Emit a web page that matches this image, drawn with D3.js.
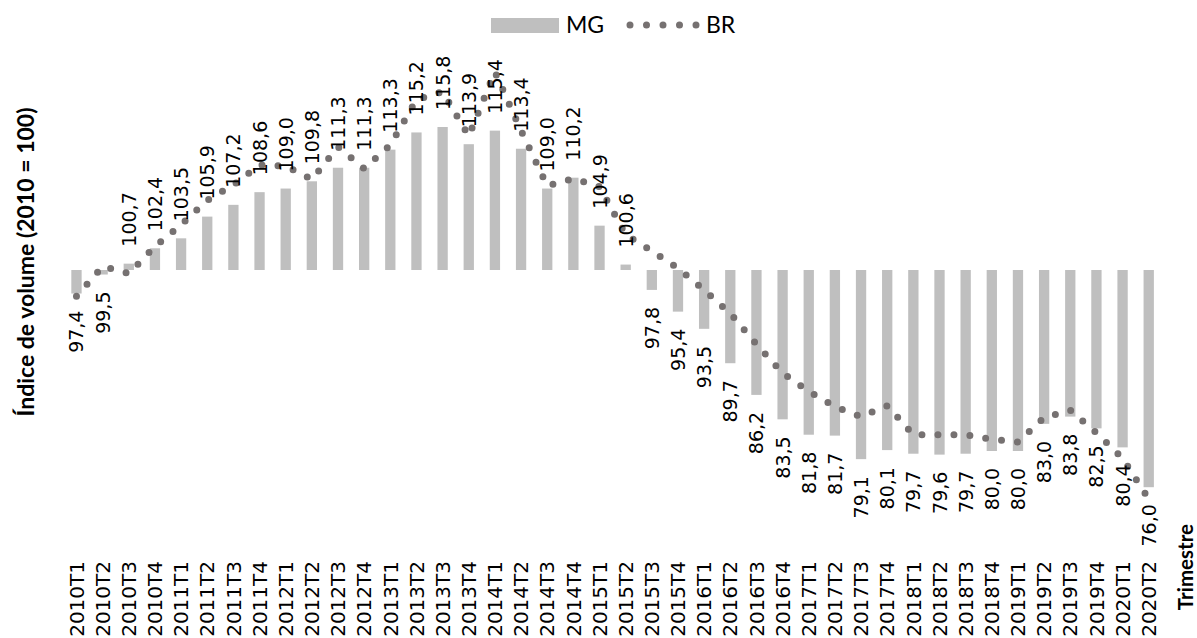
<!DOCTYPE html>
<html>
<head>
<meta charset="utf-8">
<title>MG x BR</title>
<script src="https://d3js.org/d3.v7.min.js"></script>
<style>
  body { margin: 0; background: #fff; }
  svg { display: block; }
</style>
</head>
<body>
<svg id="chart"></svg>
<script>
// trimestres 2010T1 .. 2020T2
const quarters = [];
for (let y = 2010; y <= 2020; y++) {
    for (let q = 1; q <= 4; q++) {
        if (y === 2020 && q > 2) break;
        quarters.push(y + "T" + q);
    }
}

// MG (barras, com rótulo)
const mgValues = [
    97.4, 99.5, 100.7, 102.4, 103.5, 105.9, 107.2, 108.6,
    109.0, 109.8, 111.3, 111.3, 113.3, 115.2, 115.8, 113.9,
    115.4, 113.4, 109.0, 110.2, 104.9, 100.6, 97.8, 95.4,
    93.5, 89.7, 86.2, 83.5, 81.8, 81.7, 79.1, 80.1,
    79.7, 79.6, 79.7, 80.0, 80.0, 83.0, 83.8, 82.5,
    80.4, 76.0
];

// BR (linha pontilhada, sem rótulo)
const brValues = [
    97.1, 100.4, 99.6, 102.6, 105.0, 107.7, 109.4, 111.6,
    111.5, 110.0, 113.6, 111.2, 113.8, 118.8, 119.7, 114.8,
    121.9, 115.4, 109.3, 110.1, 109.2, 103.9, 102.1, 100.2,
    97.8, 95.2, 91.8, 88.6, 86.6, 84.9, 83.8, 85.0,
    81.8, 81.8, 81.8, 81.3, 81.0, 83.7, 84.5, 82.0,
    79.2, 74.7
];

const seriesNames = ["MG", "BR"];
const baseValue = 100;

const width = 1197, height = 638;
const barColor = "#bfbfbf", dotColor = "#767171";
const fmt = v => v.toFixed(1).replace(".", ",");

const svg = d3.select("#chart").attr("width", width).attr("height", height);

const x = d3.scaleBand()
    .domain(quarters)
    .range([63.4, 1161.8])
    .paddingInner(0.606)
    .paddingOuter(0.303);

const y = d3.scaleLinear()
    .domain([70, 125])
    .range([541.5, 43.75]);

const cx = d => x(d) + x.bandwidth() / 2;

// barras a partir da base 100
svg.append("g")
    .selectAll("rect")
    .data(mgValues)
    .join("rect")
    .attr("x", (d, i) => x(quarters[i]))
    .attr("width", x.bandwidth())
    .attr("y", d => Math.min(y(d), y(baseValue)))
    .attr("height", d => Math.abs(y(d) - y(baseValue)))
    .attr("fill", barColor);

// linha BR pontilhada
const line = d3.line()
    .x((d, i) => cx(quarters[i]))
    .y(d => y(d));

svg.append("path")
    .datum(brValues)
    .attr("d", line)
    .attr("fill", "none")
    .attr("stroke", dotColor)
    .attr("stroke-width", 7)
    .attr("stroke-linecap", "round")
    .attr("stroke-dasharray", "0 16");

// rótulos MG
svg.append("g")
    .selectAll("text")
    .data(mgValues)
    .join("text")
    .attr("transform", (d, i) => {
        const up = d >= baseValue;
        const yy = up ? y(d) - 17 : y(d) + 17;
        return `translate(${cx(quarters[i]) + 7},${yy}) rotate(-90)`;
    })
    .attr("text-anchor", d => d >= baseValue ? "start" : "end")
    .attr("font-family", "DejaVu Sans")
    .attr("font-size", 19)
    .attr("fill", "#000")
    .text(fmt);

// eixo x (apenas rótulos)
const xAxis = svg.append("g")
    .attr("transform", "translate(0,561)")
    .call(d3.axisBottom(x).tickSize(0).tickPadding(0));
xAxis.select(".domain").remove();
xAxis.selectAll("text")
    .attr("transform", "rotate(-90)")
    .attr("x", 0)
    .attr("y", 0)
    .attr("dx", 0)
    .attr("dy", "0.36em")
    .attr("text-anchor", "end")
    .attr("font-family", "DejaVu Sans")
    .attr("font-size", 20)
    .attr("fill", "#000");

// títulos dos eixos
svg.append("text")
    .attr("transform", "translate(34,262) rotate(-90)")
    .attr("text-anchor", "middle")
    .attr("font-family", "Lato")
    .attr("font-weight", "bold")
    .attr("font-size", 23)
    .text("Índice de volume (2010 = 100)");

svg.append("text")
    .attr("transform", "translate(1193,524) rotate(-90)")
    .attr("text-anchor", "end")
    .attr("font-family", "Lato")
    .attr("font-weight", "bold")
    .attr("font-size", 20.5)
    .text("Trimestre");

// legenda
const legend = svg.append("g").attr("font-family", "Lato").attr("font-size", 23);
legend.append("rect")
    .attr("x", 491).attr("y", 18).attr("width", 68).attr("height", 15)
    .attr("fill", barColor);
legend.append("text").attr("x", 566).attr("y", 33).text(seriesNames[0]);
legend.append("line")
    .attr("x1", 630).attr("x2", 697).attr("y1", 25).attr("y2", 25)
    .attr("stroke", dotColor)
    .attr("stroke-width", 7)
    .attr("stroke-linecap", "round")
    .attr("stroke-dasharray", "0 16.5");
legend.append("text").attr("x", 706).attr("y", 33).text(seriesNames[1]);
</script>
</body>
</html>
